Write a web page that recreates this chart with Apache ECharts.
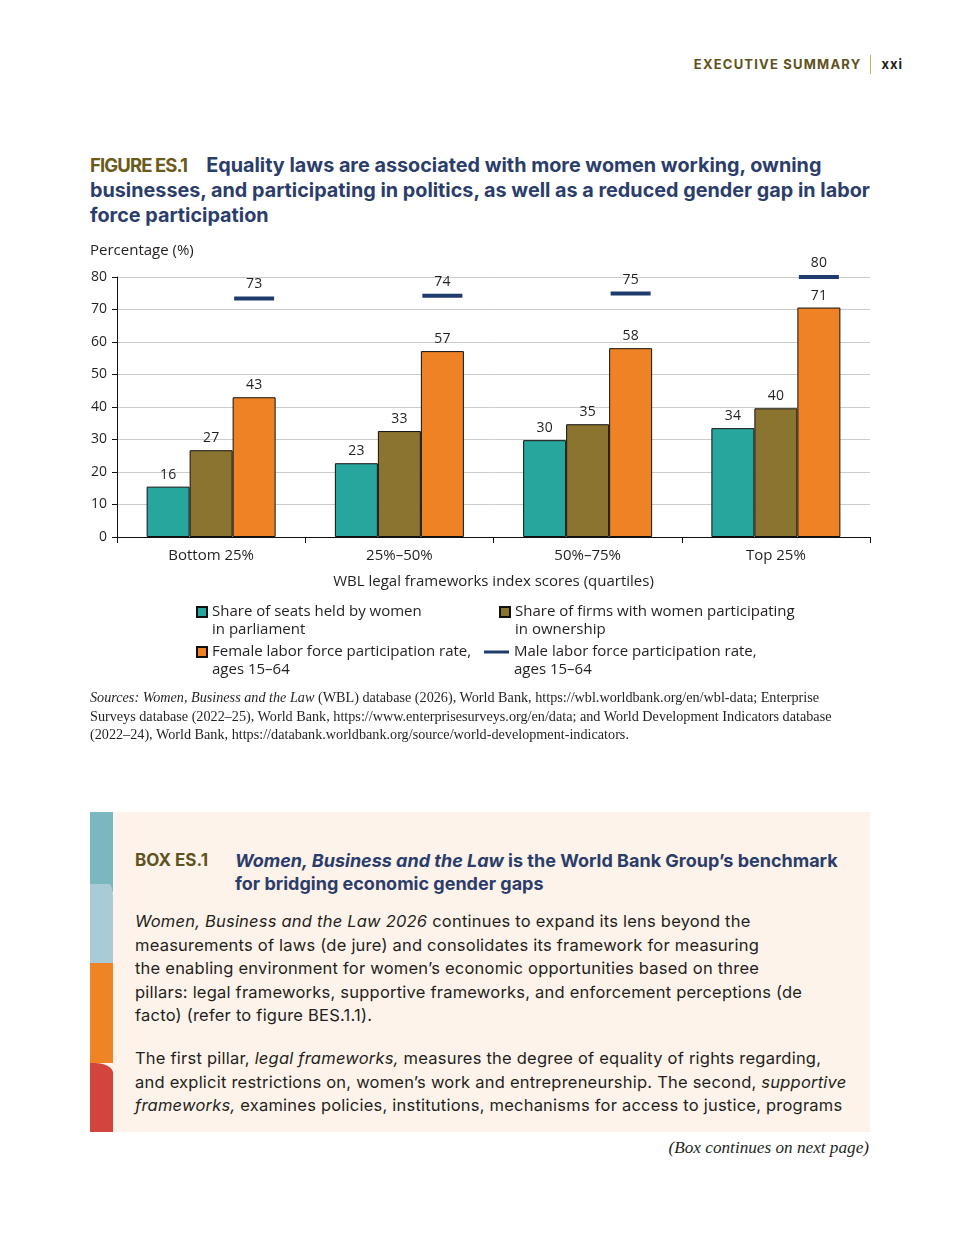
<!DOCTYPE html>
<html><head><meta charset="utf-8">
<script src="https://cdn.jsdelivr.net/npm/echarts@6/dist/echarts.min.js"></script>
<style>
html,body{margin:0;padding:0}
body{width:960px;height:1260px;background:#fff;position:relative;overflow:hidden;font-family:Inter,"Noto Sans",sans-serif;color:#231f20}
.hdr{position:absolute;top:55px;left:0;width:903px;text-align:right;font-size:13px;font-weight:700;line-height:18px;white-space:nowrap}
.hdr .ex{color:#5e5220;letter-spacing:1.2px}
.hdr .bar{display:inline-block;width:1px;height:19px;background:#c9a96b;vertical-align:middle;margin:0 10px 0 9px;position:relative;top:-1px}
.hdr .pg{color:#231f20;letter-spacing:1px}
.ftitle{position:absolute;left:90px;top:153px;font-size:19.8px;line-height:25px;font-weight:700;color:#2b3d6b;white-space:nowrap;letter-spacing:0}
.ftitle .lab{color:#6b5b1b;margin-right:19px;letter-spacing:-0.9px;font-size:18.5px}
#chart{position:absolute;left:0;top:235px;width:960px;height:460px}
.src{position:absolute;left:90px;top:688px;font-family:"Liberation Serif",serif;font-size:14.2px;line-height:18.5px;white-space:nowrap;color:#231f20}
.box{position:absolute;left:90px;top:812px;width:780px;height:320px;background:#fef3ea;overflow:hidden}
.stripe{position:absolute;left:0;width:23px}
.bt{position:absolute;left:45px;top:37px;font-size:18px;line-height:23px;font-weight:700;white-space:nowrap}
.bt .lab{color:#5e5220;position:absolute;left:0;top:0;font-size:17px}
.bt .tx{color:#2b3d6b;position:absolute;left:100px;top:0}
.bp{position:absolute;left:45px;font-size:16.5px;letter-spacing:0.22px;line-height:23.5px;white-space:nowrap;color:#231f20}
.cont{position:absolute;right:91px;top:1138px;font-family:"Liberation Serif",serif;font-style:italic;font-size:17.2px;line-height:20px;color:#231f20}
</style></head>
<body>
<div class="hdr"><span class="ex">EXECUTIVE SUMMARY</span><span class="bar"></span><span class="pg">xxi</span></div>
<div class="ftitle"><span class="lab">FIGURE ES.1</span>Equality laws are associated with more women working, owning<br>businesses, and participating in politics, as well as a reduced gender gap in labor<br>force participation</div>
<div id="chart"></div>
<div class="src"><i>Sources: Women, Business and the Law</i> (WBL) database (2026), World Bank, https://wbl.worldbank.org/en/wbl-data; Enterprise<br>Surveys database (2022–25), World Bank, https://www.enterprisesurveys.org/en/data; and World Development Indicators database<br>(2022–24), World Bank, https://databank.worldbank.org/source/world-development-indicators.</div>
<div class="box">
  <div class="stripe" style="top:0;height:80px;background:#7ab7bf"></div>
  <div class="stripe" style="top:72px;height:81px;background:#a9cbd5;border-top-right-radius:4px 14px"></div>
  <div class="stripe" style="top:151px;height:100px;background:#ee8426"></div>
  <div class="stripe" style="top:251px;height:69px;background:#d3443c;border-top-right-radius:18px 10px"></div>
  <div class="bt"><span class="lab">BOX ES.1</span><span class="tx"><i>Women, Business and the Law</i> is the World Bank Group’s benchmark<br>for bridging economic gender gaps</span></div>
  <div class="bp" style="top:98px"><i>Women, Business and the Law 2026</i> continues to expand its lens beyond the<br>measurements of laws (de jure) and consolidates its framework for measuring<br>the enabling environment for women’s economic opportunities based on three<br>pillars: legal frameworks, supportive frameworks, and enforcement perceptions (de<br>facto) (refer to figure BES.1.1).</div>
  <div class="bp" style="top:235px">The first pillar, <i>legal frameworks,</i> measures the degree of equality of rights regarding,<br>and explicit restrictions on, women’s work and entrepreneurship. The second, <i>supportive</i><br><i>frameworks,</i> examines policies, institutions, mechanisms for access to justice, programs</div>
</div>
<div class="cont">(Box continues on next page)</div>
<script>
const categories = ['Bottom 25%', '25%–50%', '50%–75%', 'Top 25%'];
const seatsWomen = [15.5, 22.7, 29.8, 33.5];
const firmsWomen = [26.7, 32.6, 34.7, 39.6];
const femaleLFP = [43.0, 57.2, 58.1, 70.6];
const maleLFP = [73.4, 74.2, 74.9, 80.0];
const seriesNames = [
  'Share of seats held by women in parliament',
  'Share of firms with women participating in ownership',
  'Female labor force participation rate, ages 15–64',
  'Male labor force participation rate, ages 15–64'
];
const legendLabels = [
  'Share of seats held by women\nin parliament',
  'Share of firms with women participating\nin ownership',
  'Female labor force participation rate,\nages 15–64',
  'Male labor force participation rate,\nages 15–64'
];
const yMin = 0, yMax = 80, yStep = 10;
const colors = ['#27a69d', '#8a7430', '#ef8224', '#1f3a6d'];

const FONT = '"Open Sans", sans-serif';
const TXT = '#231f20';
const chart = echarts.init(document.getElementById('chart'), null, {renderer: 'canvas'});

function barSeries(i, data) {
  return {
    name: seriesNames[i], type: 'bar', data: data,
    barWidth: 43, barGap: '0%',
    itemStyle: {color: colors[i], borderColor: '#111', borderWidth: 1},
    label: {show: true, position: 'top', distance: 5, color: TXT, fontSize: 14, fontFamily: FONT,
      formatter: p => String(Math.round(p.value))},
    emphasis: {disabled: true}
  };
}
const legendText = {fontSize: 15, fontFamily: FONT, color: TXT, lineHeight: 18};
function legendFor(i, left, top, w, h, icon) {
  return {
    data: [{name: seriesNames[i], icon: icon}],
    left: left, top: top, padding: 0, itemWidth: w, itemHeight: h,
    selectedMode: false, formatter: () => '\n' + legendLabels[i], textStyle: legendText
  };
}
chart.setOption({
  animation: false,
  title: {text: 'Percentage (%)', left: 90, top: 8, padding: 0,
    textStyle: {fontSize: 15, fontWeight: 'normal', fontFamily: FONT, color: TXT}},
  grid: {left: 117, right: 90, top: 42, height: 260},
  legend: [
    legendFor(0, 196, 350, 10, 10, 'rect'),
    legendFor(1, 499, 350, 10, 10, 'rect'),
    legendFor(2, 196, 390, 10, 10, 'rect'),
    legendFor(3, 484, 390, 25, 3, 'rect')
  ],
  xAxis: {
    type: 'category', data: categories,
    axisLine: {lineStyle: {color: '#111', width: 1}},
    axisTick: {show: true, length: 6, lineStyle: {color: '#111'}},
    axisLabel: {margin: 11, fontSize: 15, fontFamily: FONT, color: TXT},
    name: 'WBL legal frameworks index scores (quartiles)', nameLocation: 'middle', nameGap: 37,
    nameTextStyle: {fontSize: 15, fontFamily: FONT, color: TXT}
  },
  yAxis: {
    type: 'value', min: yMin, max: yMax, interval: yStep,
    axisLine: {show: true, lineStyle: {color: '#111', width: 1}},
    axisTick: {show: true, length: 5, lineStyle: {color: '#111'}},
    axisLabel: {margin: 10, fontSize: 14, fontFamily: FONT, color: TXT},
    splitLine: {lineStyle: {color: '#cccccc', width: 1}}
  },
  series: [
    barSeries(0, seatsWomen),
    barSeries(1, firmsWomen),
    barSeries(2, femaleLFP),
    {
      name: seriesNames[3], type: 'scatter', data: maleLFP, clip: false,
      symbol: 'rect', symbolSize: [40, 4], symbolOffset: [43, 0],
      itemStyle: {color: colors[3], opacity: 1},
      label: {show: true, position: 'top', distance: 5, color: TXT, fontSize: 14, fontFamily: FONT,
        formatter: p => String(Math.round(p.value))},
      emphasis: {disabled: true}, z: 5
    }
  ]
});
</script>
</body></html>
